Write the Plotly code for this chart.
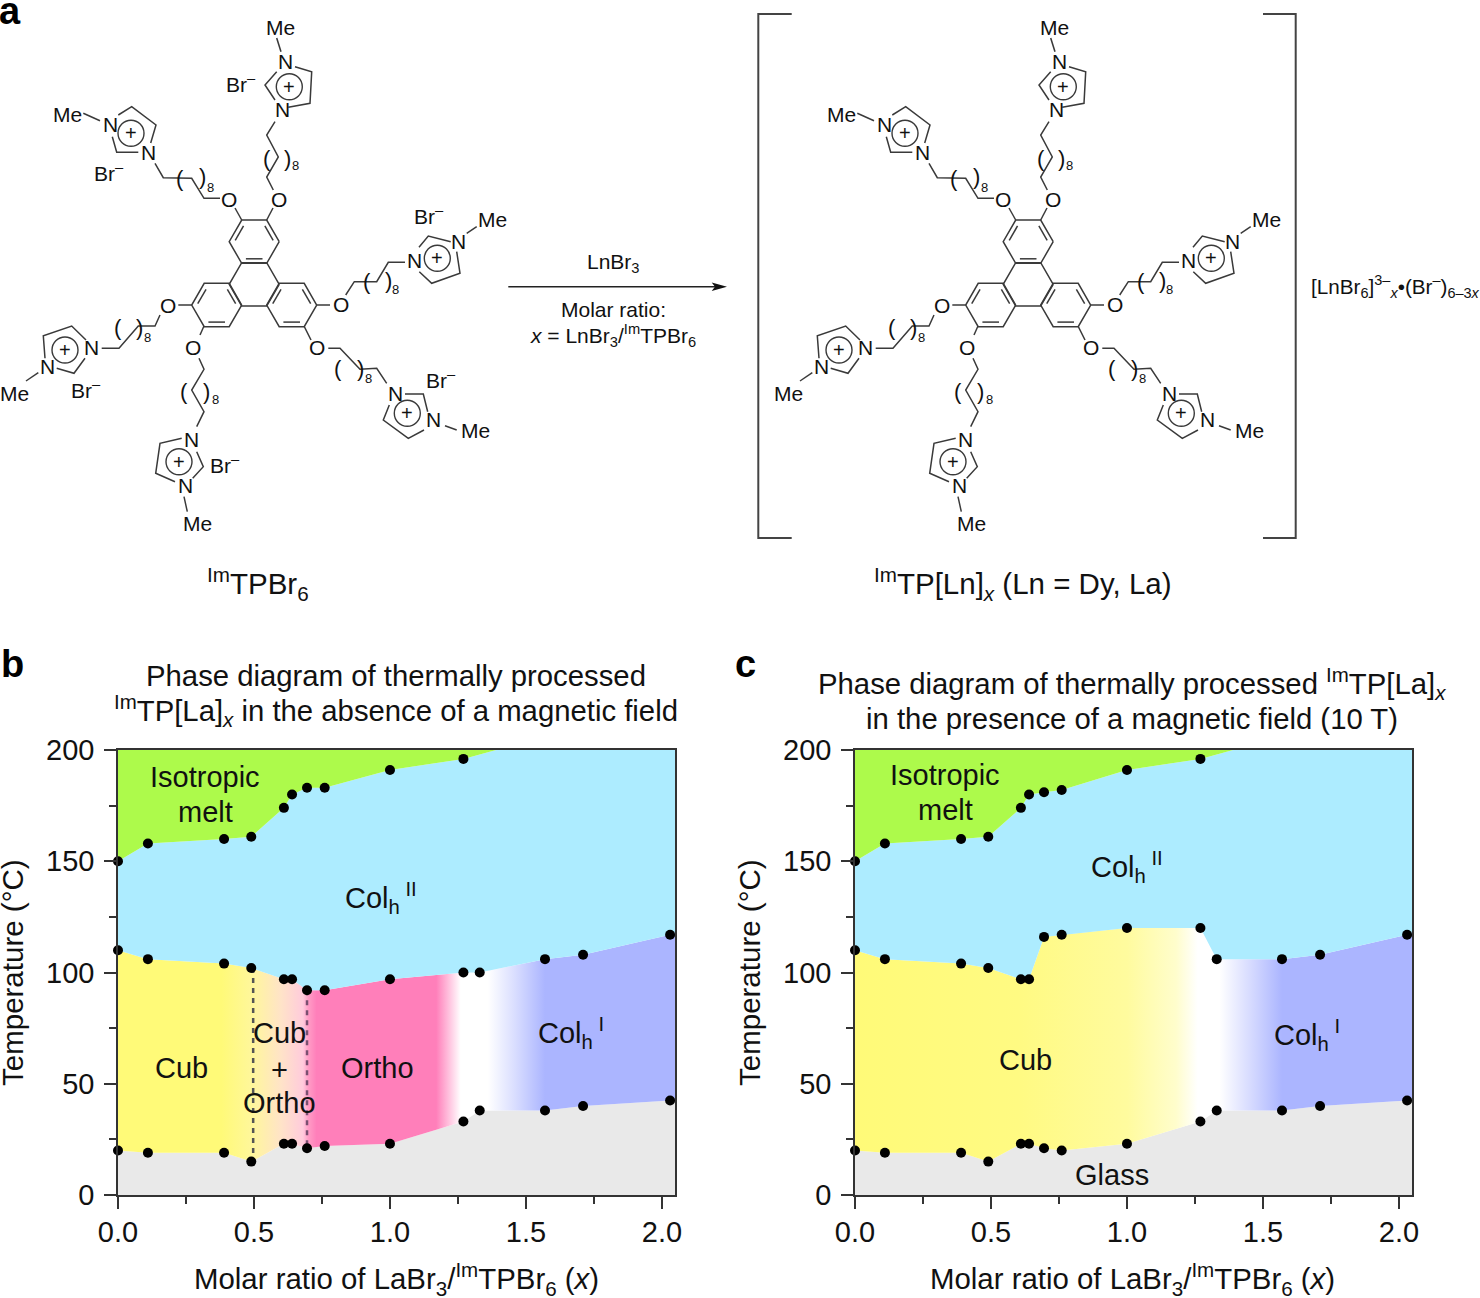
import math
import plotly.graph_objects as go

W, H = 1480, 1298
FONT = "Liberation Sans"
INK = "#111111"
BOND = "#3a3a3a"

# ---------- phase diagram data ----------
X_MAX = 2.048
X_TICKS = [0.0, 0.5, 1.0, 1.5, 2.0]
Y_TICKS = [0, 50, 100, 150, 200]

COMP = [0.0, 0.11, 0.39, 0.49, 0.61, 0.64, 0.695, 0.76, 1.0, 1.27, 1.33, 1.57, 1.71, 2.03]

B_UP_X = [0.0, 0.11, 0.39, 0.49, 0.61, 0.64, 0.695, 0.76, 1.0, 1.27]
B_UP_T = [150, 158, 160, 161, 174, 180, 183, 183, 191, 196]
B_MID_T = [110, 106, 104, 102, 97, 97, 92, 92, 97, 100, 100, 106, 108, 117]
B_LOW_T = [20, 19, 19, 15, 23, 23, 21, 22, 23, 33, 38, 38, 40, 42.5]

C_UP_X = [0.0, 0.11, 0.39, 0.49, 0.61, 0.64, 0.695, 0.76, 1.0, 1.27]
C_UP_T = [150, 158, 160, 161, 174, 180, 181, 182, 191, 196]
C_MID_T = [110, 106, 104, 102, 97, 97, 116, 117, 120, 120, 106, 106, 108, 117]
C_LOW_T = [20, 19, 19, 15, 23, 23, 21, 20, 23, 33, 38, 38, 40, 42.5]

UP_TAIL_X, UP_TAIL_T = 1.39, 200
MID_EDGE_T, LOW_EDGE_T = 118, 43

# horizontal colour stops of the mesophase band
B_GRAD_X = [0.0, 0.38, 0.49, 0.6, 0.68, 0.70, 0.73, 1.17, 1.26, 1.36, 1.45, 1.57, X_MAX]
B_GRAD_C = ["#FFFA78", "#FFFA78", "#FFF79A", "#FFE3C8", "#FFCBDC", "#FF9CC6", "#FF7FBA", "#FF7FBA",
            "#FFFFFF", "#FFFFFF", "#DDE1FF", "#ABB5FF", "#ABB5FF"]
C_GRAD_X = [0.0, 0.6, 1.0, 1.18, 1.26, 1.34, 1.45, 1.57, X_MAX]
C_GRAD_C = ["#FFFA78", "#FFFA82", "#FFFB9E", "#FFFDCC", "#FFFFFF", "#FFFFFF", "#D8DCFF", "#ABB5FF", "#ABB5FF"]

GREEN, BLUE, GREY = "#ADFA4B", "#ADECFF", "#E9E9E9"

B_DASH_X = [0.497, 0.695]
B_DASH_TOP = [102, 92]
B_DASH_BOT = [15, 21]
B_DASH_C = ["#555555", "#7A4F70"]

# ---------- molecule drawing (page pixels) ----------
RINGS = [(254.2, 241.7), (216.7, 305.0), (291.7, 305.0)]
CENTRE_RING = (254.2, 284.3)
HEX_R = 25.0
# [polyline, ...]
LINES = [
    [(241.7, 220), (235, 208)], [(266.7, 220), (273, 208)],
    [(191.7, 305), (178.3, 305)], [(316, 305), (330, 305)],
    [(204, 326), (200, 335)], [(304, 326), (311, 340)],
    # chains
    [(220, 198.3), (204, 198.3), (191.7, 178.3), (163.3, 177.7), (155, 163.3)],
    [(273.3, 190), (266.7, 177), (278.3, 157), (266.7, 135), (275, 121.7)],
    [(345.7, 295), (354.3, 281.7), (376.7, 281.7), (388.3, 262.3), (405, 262.3)],
    [(160, 315), (155, 326), (138.3, 326), (119, 348.3), (101.7, 348.3)],
    [(199, 358.3), (204, 369.3), (191.7, 390), (204, 411.7), (196.7, 426.7)],
    [(328.3, 348.3), (340, 348.3), (360, 369.3), (376.7, 368.3), (386.7, 383.3)],
    # imidazolium rings and methyl bonds
    [(295, 66.7), (311.7, 71.7), (310, 103.3), (288.3, 107.3)],
    [(276.7, 71.7), (265, 85), (275, 100)], [(276.7, 38), (281, 51.7)],
    [(118.3, 115), (131.7, 106.7), (156, 125), (150.7, 143)],
    [(112.3, 136.7), (116.7, 152.3), (138.3, 152.3)], [(83.3, 113.3), (100, 120.7)],
    [(419, 247.3), (428.3, 236), (450.7, 241.7)],
    [(419.3, 271.7), (431.7, 283.3), (460, 273.3), (456.7, 251.7)], [(466.7, 233.3), (476.7, 226.7)],
    [(86, 340), (71.7, 326), (43.3, 335.7), (45, 358.3)],
    [(56.7, 368.3), (74, 373.3), (85, 358.3)], [(26, 381), (38.3, 372.7)],
    [(181.7, 438.3), (160, 443.3), (155.7, 473.3), (175, 481.7)],
    [(196.7, 451.7), (203.3, 466.7), (192.7, 478.3)], [(184, 496.7), (187.3, 511.7)],
    [(405, 394), (423.3, 394), (427.7, 411.7)],
    [(389.3, 405), (383.3, 420), (408.3, 438.3), (424, 430)], [(445, 425.7), (456.7, 430)],
]
PLUS = [(289.3, 86.7), (131, 133.3), (437.3, 258.3), (65, 350), (179, 461.7), (407.3, 413.3)]
ATOMS = [("O", 229.3, 199), ("O", 279.3, 199), ("O", 167.7, 305), ("O", 340.7, 304),
         ("O", 192.7, 347.3), ("O", 316.7, 347.3),
         ("N", 285, 61.7), ("N", 282.7, 109), ("N", 110, 124), ("N", 148.3, 152.3),
         ("N", 414, 260.7), ("N", 458.3, 241.7), ("N", 91.7, 347.3), ("N", 47.7, 366.3),
         ("N", 191.7, 439), ("N", 185, 485), ("N", 395, 393), ("N", 433.3, 419.7),
         ("Me", 280, 27.3), ("Me", 67.7, 114.7), ("Me", 492.3, 219), ("Me", 14, 393.3),
         ("Me", 197.3, 523), ("Me", 475, 430.7)]
BROMIDES = [(241, 82.7), (109.3, 172.3), (429.3, 215), (86, 389.3), (225, 464.3), (441, 379)]
PARENS = [(180, 178, 202, 176, 210.7, 187.7), (266.7, 158, 287.3, 158, 295, 165.7),
          (366.7, 281.7, 388.3, 280, 395.7, 289.3), (117.7, 327.3, 139.3, 327.3, 147.3, 337.3),
          (184.3, 391.7, 206.7, 391.7, 215, 399.3), (338.3, 368.3, 360.7, 368.3, 368.3, 378.3)]
MOLECULE_SHIFT = 774

BRACKET_L = [(791.7, 14), (758.3, 14), (758.3, 538), (791.7, 538)]
BRACKET_R = [(1263, 14), (1295.7, 14), (1295.7, 538), (1263, 538)]
ARROW_LINE = [(508.3, 286.7), (716, 286.7)]
ARROW_HEAD = [(727, 286.7), (711.7, 282.5), (715, 286.7), (711.7, 291), (727, 286.7)]

# ---------- panel geometry ----------
PANEL_B = (118, 675)
PANEL_C = (855, 1412)
PANEL_TOP, PANEL_BOT = 750, 1195

fig = go.Figure()


def colorscale(xs, cs):
    return [[x / X_MAX, c] for x, c in zip(xs, cs)]


def add_panel(xa, ya, up_x, up_t, mid_t, low_t, gx, gc):
    mid_x = COMP + [X_MAX]
    mid_y = mid_t + [MID_EDGE_T]
    low_y = low_t + [LOW_EDGE_T]
    common = dict(xaxis=xa, yaxis=ya, mode="lines", line=dict(width=0), hoverinfo="skip", showlegend=False, fill="toself")
    # glass
    fig.add_trace(go.Scatter(x=mid_x + [X_MAX, 0], y=low_y + [0, 0], fillcolor=GREY, **common))
    # lower mesophases
    fig.add_trace(go.Scatter(x=mid_x + mid_x[::-1], y=low_y + mid_y[::-1],
                             fillgradient=dict(type="horizontal", colorscale=colorscale(gx, gc), start=0, stop=X_MAX),
                             **common))
    # Col_h II
    ux = up_x + [UP_TAIL_X, X_MAX]
    uy = up_t + [UP_TAIL_T, 200]
    fig.add_trace(go.Scatter(x=ux + mid_x[::-1], y=uy + mid_y[::-1], fillcolor=BLUE, **common))
    # melt
    fig.add_trace(go.Scatter(x=up_x + [UP_TAIL_X, 0], y=up_t + [UP_TAIL_T, 200], fillcolor=GREEN, **common))


add_panel("x", "y", B_UP_X, B_UP_T, B_MID_T, B_LOW_T, B_GRAD_X, B_GRAD_C)
for dx, top, bot, col in zip(B_DASH_X, B_DASH_TOP, B_DASH_BOT, B_DASH_C):
    fig.add_trace(go.Scatter(x=[dx, dx], y=[top, bot], xaxis="x", yaxis="y", mode="lines",
                             line=dict(color=col, width=2.5, dash="5px,5px"), hoverinfo="skip", showlegend=False))
add_panel("x2", "y2", C_UP_X, C_UP_T, C_MID_T, C_LOW_T, C_GRAD_X, C_GRAD_C)


def dots(xa, ya, xs, ys):
    fig.add_trace(go.Scatter(x=xs, y=ys, xaxis=xa, yaxis=ya, mode="markers", cliponaxis=False,
                             marker=dict(color="black", size=10), hoverinfo="skip", showlegend=False))


dots("x", "y", B_UP_X + COMP + COMP, B_UP_T + B_MID_T + B_LOW_T)
dots("x2", "y2", C_UP_X + COMP + COMP, C_UP_T + C_MID_T + C_LOW_T)

# ---------- overlay page axis for the scheme ----------
seg_x, seg_y = [], []


def poly(pts, shift=0):
    for px, py in pts:
        seg_x.append(px + shift)
        seg_y.append(py)
    seg_x.append(None)
    seg_y.append(None)


def hexv(c, k, r=HEX_R):
    return (c[0] + r * math.cos(math.radians(60 * k)), c[1] + r * math.sin(math.radians(60 * k)))


for shift in (0, MOLECULE_SHIFT):
    for c in RINGS + [CENTRE_RING]:
        poly([hexv(c, k) for k in range(7)], shift)
    for c in RINGS:
        for a, b in ((3, 4), (5, 0), (1, 2)):
            p, q = hexv(c, a, HEX_R * 0.79), hexv(c, b, HEX_R * 0.79)
            poly([(p[0] + (q[0] - p[0]) * 0.08, p[1] + (q[1] - p[1]) * 0.08),
                  (q[0] - (q[0] - p[0]) * 0.08, q[1] - (q[1] - p[1]) * 0.08)], shift)
    for ln in LINES:
        poly(ln, shift)

fig.add_trace(go.Scatter(x=seg_x, y=seg_y, xaxis="x3", yaxis="y3", mode="lines",
                         line=dict(color=BOND, width=1.5), hoverinfo="skip", showlegend=False))
circ = [p for shift in (0, MOLECULE_SHIFT) for p in [(x + shift, y) for x, y in PLUS]]
fig.add_trace(go.Scatter(x=[p[0] for p in circ], y=[p[1] for p in circ], xaxis="x3", yaxis="y3", mode="markers",
                         marker=dict(symbol="circle-open", size=26, color=BOND, line=dict(width=1.4, color=BOND)),
                         hoverinfo="skip", showlegend=False))
for br in (BRACKET_L, BRACKET_R):
    fig.add_trace(go.Scatter(x=[p[0] for p in br], y=[p[1] for p in br], xaxis="x3", yaxis="y3", mode="lines",
                             line=dict(color="#444444", width=2), hoverinfo="skip", showlegend=False))
fig.add_trace(go.Scatter(x=[p[0] for p in ARROW_LINE], y=[p[1] for p in ARROW_LINE], xaxis="x3", yaxis="y3", mode="lines",
                         line=dict(color="#222222", width=1.5), hoverinfo="skip", showlegend=False))
fig.add_trace(go.Scatter(x=[p[0] for p in ARROW_HEAD], y=[p[1] for p in ARROW_HEAD], xaxis="x3", yaxis="y3", mode="lines",
                         fill="toself", fillcolor="#111111", line=dict(width=0), hoverinfo="skip", showlegend=False))

ann = []


def T(x, y, text, size=28, anchor="center", angle=0, weight=None, color=INK):
    ann.append(dict(x=x, y=y, xref="x3", yref="y3", text=text, showarrow=False, xanchor=anchor, yanchor="middle",
                    textangle=angle, font=dict(family=FONT, size=size, color=color, weight=weight or 400),
                    borderpad=0, borderwidth=0))


for shift in (0, MOLECULE_SHIFT):
    for t, x, y in ATOMS:
        T(x + shift, y, t, 21)
    for x, y in PLUS:
        T(x + shift, y, "+", 20)
    for lx, ly, rx, ry, ex, ey in PARENS:
        T(lx + shift, ly, "(", 22)
        T(rx + shift, ry, ")", 22)
        T(ex + shift, ey, "8", 13)
for x, y in BROMIDES:
    T(x, y, "Br<sup>–</sup>", 21)

T(10, 11, "a", 38, weight=700, color="black")
T(12, 664, "b", 38, weight=700, color="black")
T(745, 664, "c", 38, weight=700, color="black")

T(613, 262.5, "LnBr<sub>3</sub>", 21)
T(613, 309, "Molar ratio:", 21)
T(613, 335, "<i>x</i> = LnBr<sub>3</sub>/<sup>Im</sup>TPBr<sub>6</sub>", 21)
T(1311, 286, "[LnBr<sub>6</sub>]<sup>3–</sup><sub><i>x</i></sub>•(Br<sup>–</sup>)<sub>6–3<i>x</i></sub>", 20.7, anchor="left")
T(258, 584, "<sup>Im</sup>TPBr<sub>6</sub>", 29.5)
T(1023, 584, "<sup>Im</sup>TP[Ln]<sub><i>x</i></sub> (Ln = Dy, La)", 29.5)

T(396, 675, "Phase diagram of thermally processed", 29.3)
T(396, 710, "<sup>Im</sup>TP[La]<sub><i>x</i></sub> in the absence of a magnetic field", 29.3)
T(1132, 683, "Phase diagram of thermally processed <sup>Im</sup>TP[La]<sub><i>x</i></sub>", 29.3)
T(1132, 718, "in the presence of a magnetic field (10 T)", 29.3)

for cx, cy in ((12, 973), (749, 973)):
    T(cx, cy, "Temperature (°C)", 29.5, angle=-90)
for cx in (396, 1132):
    T(cx, 1279, "Molar ratio of LaBr<sub>3</sub>/<sup>Im</sup>TPBr<sub>6</sub> (<i>x</i>)", 29.4)

for x, y, t in [(205, 777, "Isotropic"), (205, 812, "melt"), (381, 898, "Col<sub>h</sub><sup> II</sup>"),
                (181, 1068, "Cub"), (279, 1033, "Cub"), (279, 1070, "+"), (279, 1103, "Ortho"),
                (377, 1068, "Ortho"), (571, 1033, "Col<sub>h</sub><sup> I</sup>"),
                (945, 775, "Isotropic"), (945, 810, "melt"), (1127, 867, "Col<sub>h</sub><sup> II</sup>"),
                (1025, 1060, "Cub"), (1307, 1035, "Col<sub>h</sub><sup> I</sup>"), (1112, 1175, "Glass")]:
    T(x, y, t, 29)

axis_common = dict(showgrid=False, zeroline=False, showline=True, linecolor="#333333", linewidth=1.5, mirror=True,
                   ticks="outside", ticklen=12, tickwidth=1.5, tickcolor="#333333", layer="above traces",
                   tickfont=dict(family=FONT, size=29, color=INK))
x_common = dict(range=[0, X_MAX], tickmode="array", tickvals=X_TICKS, ticktext=[f"{v:.1f}" for v in X_TICKS],
                minor=dict(tick0=0, dtick=0.25, ticks="outside", ticklen=7,
                           tickwidth=1.5, tickcolor="#333333"), ticklabelstandoff=-2)
y_common = dict(range=[0, 200], tickmode="array", tickvals=Y_TICKS,
                minor=dict(tick0=0, dtick=25, ticks="outside", ticklen=7,
                           tickwidth=1.5, tickcolor="#333333"), ticklabelstandoff=4)
y_dom = [1 - PANEL_BOT / H, 1 - PANEL_TOP / H]

fig.update_layout(
    width=W, height=H, margin=dict(l=0, r=0, t=0, b=0, pad=0, autoexpand=False), autosize=False,
    paper_bgcolor="white", plot_bgcolor="rgba(0,0,0,0)", showlegend=False,
    xaxis=dict(domain=[PANEL_B[0] / W, PANEL_B[1] / W], anchor="y", **x_common, **axis_common),
    yaxis=dict(domain=y_dom, anchor="x", **y_common, **axis_common),
    xaxis2=dict(domain=[PANEL_C[0] / W, PANEL_C[1] / W], anchor="y2", **x_common, **axis_common),
    yaxis2=dict(domain=y_dom, anchor="x2", **y_common, **axis_common),
    xaxis3=dict(domain=[0, 1], range=[0, W], anchor="y3", visible=False, fixedrange=True),
    yaxis3=dict(domain=[0, 1], range=[H, 0], anchor="x3", visible=False, fixedrange=True),
    annotations=ann,
)

fig.write_html("out.html", post_script="document.body.style.margin='0';document.body.style.overflow='hidden';",
               config=dict(displayModeBar=False))
